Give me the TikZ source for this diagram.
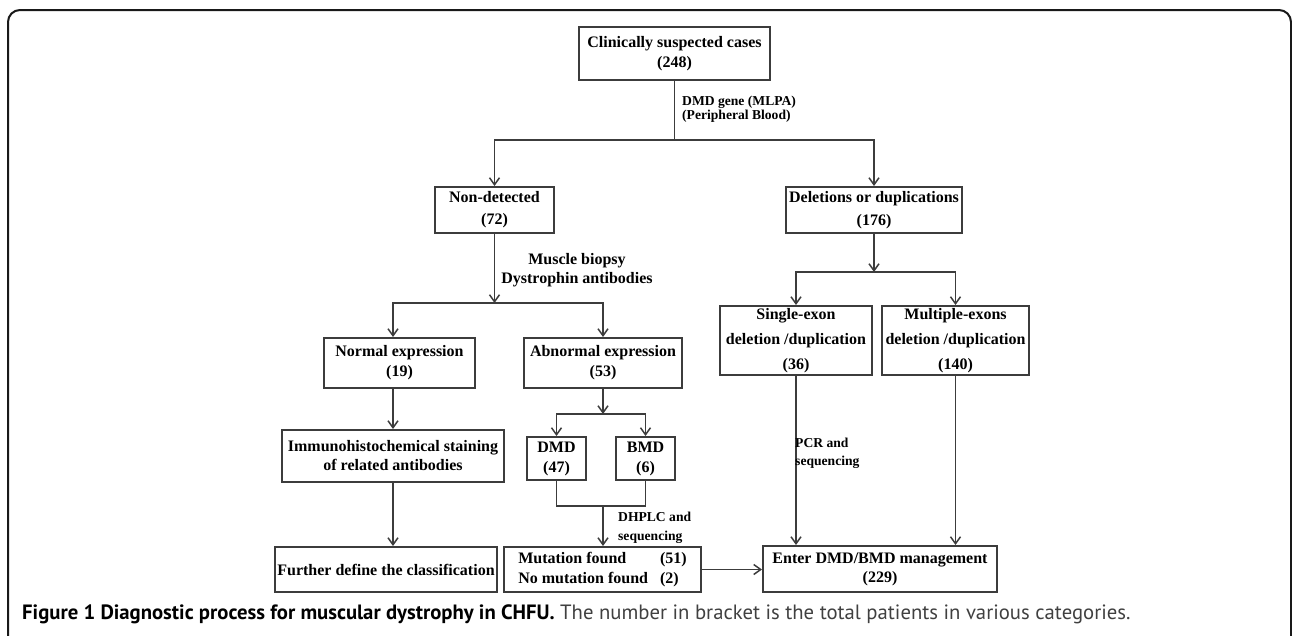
\documentclass[tikz,border=0pt]{standalone}
\usepackage{fontspec}
\setmainfont{Liberation Serif}
\newfontfamily\capfont{PT Sans}
\usetikzlibrary{arrows.meta}

\definecolor{linegray}{HTML}{3C3C3C}

\tikzset{
  box/.style={draw=linegray, line width=2pt, inner sep=0pt, align=center,
    font=\bfseries\fontsize{16}{20}\selectfont},
  conn/.style={draw=linegray, line width=1.5pt},
  arr/.style={conn, -{Straight Barb[length=7pt,width=10pt]}},
  lbl/.style={inner sep=0pt, font=\bfseries\fontsize{13.6}{14}\selectfont},
}

\begin{document}
\begin{tikzpicture}[x=1pt, y=-1pt]
  \useasboundingbox (0,0) rectangle (1292,635);

  % outer frame
  \draw[line width=2pt, draw=black!90, rounded corners=12pt] (8,700) -- (8,10) -- (1291,10) -- (1291,700);

  % boxes
  \node[box, minimum width=191pt, minimum height=53pt] (cases) at (674.5,53.5) {Clinically suspected cases\\(248)};
  \node[box, minimum width=119pt, minimum height=46pt, font=\bfseries\fontsize{16}{22}\selectfont] (nondet) at (494.5,210) {Non-detected\\(72)};
  \node[box, minimum width=176pt, minimum height=46pt, font=\bfseries\fontsize{16}{23}\selectfont] (deldup) at (874,210) {Deletions or duplications\\(176)};

  \node[box, minimum width=151pt, minimum height=50pt] (normal) at (399.5,363) {Normal expression\\(19)};
  \node[box, minimum width=158pt, minimum height=50pt] (abnormal) at (603,363) {Abnormal expression\\(53)};
  \node[box, minimum width=152pt, minimum height=69pt, font=\bfseries\fontsize{16}{25}\selectfont] (single) at (796,340.5) {Single-exon\\deletion /duplication\\(36)};
  \node[box, minimum width=147pt, minimum height=69pt, font=\bfseries\fontsize{16}{25}\selectfont] (multiple) at (955.5,340.5) {Multiple-exons\\deletion /duplication\\(140)};

  \node[box, minimum width=222pt, minimum height=52pt, font=\bfseries\fontsize{16}{19}\selectfont] (immuno) at (393,456) {Immunohistochemical staining\\of related antibodies};
  \node[box, minimum width=59pt, minimum height=43pt] (dmd) at (556.5,458.5) {DMD\\(47)};
  \node[box, minimum width=59pt, minimum height=43pt] (bmd) at (645.5,458.5) {BMD\\(6)};

  \node[box, minimum width=222pt, minimum height=45pt] (further) at (386,569.5) {Further define the classification};
  \node[box, minimum width=197pt, minimum height=45pt] (mutation) at (602.5,569.5) {\begin{tabular}{@{}l@{\hspace{12pt}}l@{}}Mutation found & (51)\\No mutation found & (2)\end{tabular}};
  \node[box, minimum width=234pt, minimum height=46pt, font=\bfseries\fontsize{16}{19}\selectfont] (enter) at (880,569) {Enter DMD/BMD management\\(229)};

  % branch points
  \coordinate (split1) at (674.5,140);
  \coordinate (split2) at (494.5,303);
  \coordinate (split3) at (874,272);
  \coordinate (split4) at (603,414);
  \coordinate (join) at (603,506);

  % connectors
  \draw[conn] (cases.south) -- (split1);
  \draw[arr] (split1) -| (nondet.north);
  \draw[arr] (split1) -| (deldup.north);

  \draw[arr] (nondet.south) -- (split2);
  \draw[arr] (split2) -| (immuno.north |- normal.north);
  \draw[arr] (split2) -| (abnormal.north);

  \draw[arr] (deldup.south) -- (split3);
  \draw[arr] (split3) -| (single.north);
  \draw[arr] (split3) -| (multiple.north);

  \draw[arr] (abnormal.south) -- (split4);
  \draw[arr] (split4) -| (dmd.north);
  \draw[arr] (split4) -| (bmd.north);

  \draw[arr] (immuno.north |- normal.south) -- (immuno.north);
  \draw[arr] (immuno.south) -- (immuno.south |- further.north);

  \draw[conn] (dmd.south) |- (join) -| (bmd.south);
  \draw[arr] (join) -- (join |- mutation.north);
  \draw[arr] (mutation.east) -- (mutation.east -| enter.west);

  \draw[arr] (single.south) -- (single.south |- enter.north);
  \draw[arr] (multiple.south) -- (multiple.south |- enter.north);

  % labels on the connectors
  \node[lbl, anchor=west, align=left] (mlpa) at (682,109) {DMD gene (MLPA)\\(Peripheral Blood)};
  \node[lbl, align=center, font=\bfseries\fontsize{16}{19}\selectfont] (biopsy) at (577,270) {Muscle biopsy\\Dystrophin antibodies};
  \node[lbl, anchor=west, align=left, font=\bfseries\fontsize{13.6}{19}\selectfont] (dhplc) at (618,528) {DHPLC and\\sequencing};
  \node[lbl, anchor=west, align=left, font=\bfseries\fontsize{13.6}{18}\selectfont] (pcr) at (795,453) {PCR and\\sequencing};

  % caption
  \node[anchor=base west, inner sep=0pt, font=\capfont\fontsize{20.7}{24}\selectfont] (caption) at (22,619)
    {\textbf{Figure 1 Diagnostic process for muscular dystrophy in CHFU.} {\color{black!75}The number in bracket is the total patients in various categories.}};
\end{tikzpicture}
\end{document}
